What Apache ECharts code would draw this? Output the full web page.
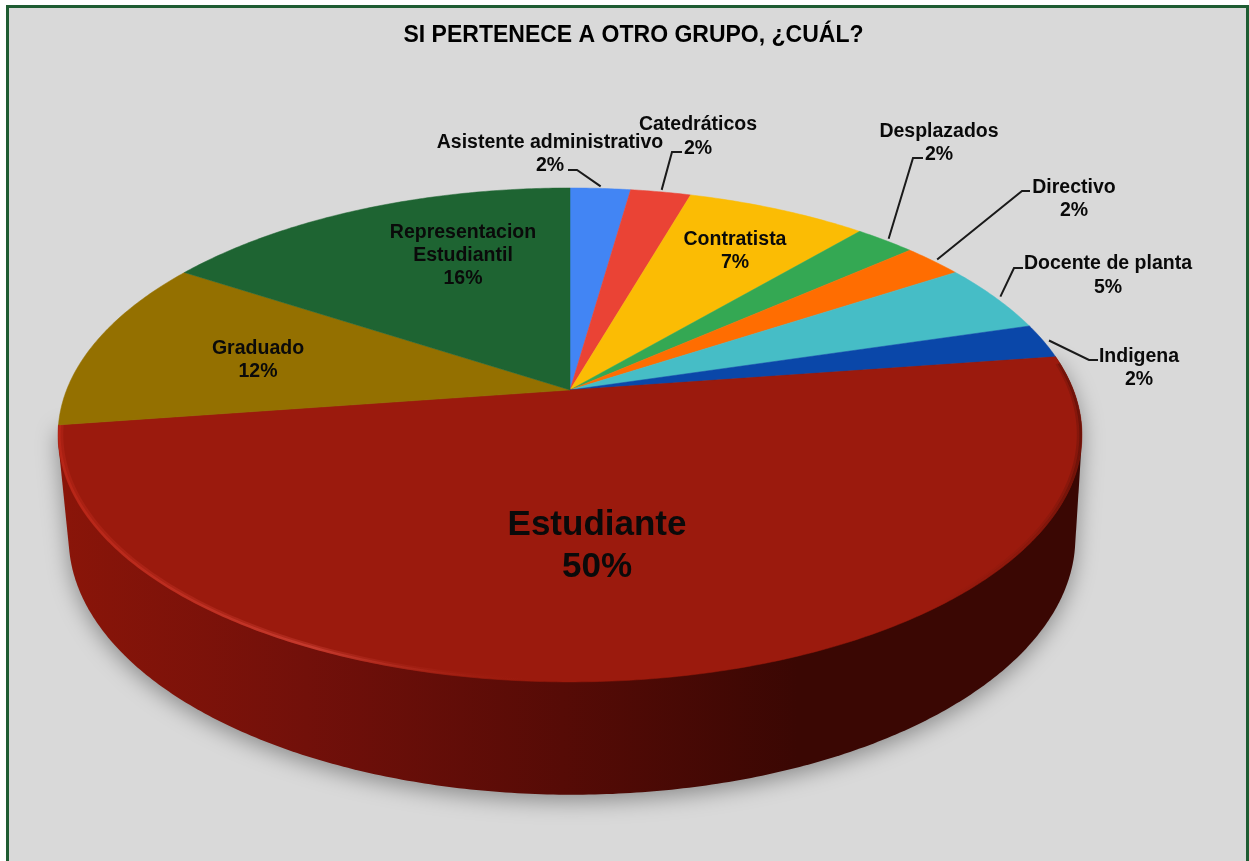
<!DOCTYPE html>
<html><head><meta charset="utf-8">
<style>html,body{margin:0;padding:0;background:#fff}#c{width:1249px;height:861px}</style>
<script src="https://cdn.jsdelivr.net/npm/echarts@6/dist/echarts.min.js"></script>
</head><body><div id="c"></div>
<script>
// ---- data ----
var categories = ['Asistente administrativo','Catedráticos','Contratista','Desplazados','Directivo','Docente de planta','Indigena','Estudiante','Graduado','Representacion\nEstudiantil'];
var shares = [2.27,2.27,6.82,2.27,2.27,4.55,2.27,50,11.36,15.91];
var percentLabels = ['2%','2%','7%','2%','2%','5%','2%','50%','12%','16%'];
var colors = ['#4285f4','#ea4335','#fbbc04','#34a853','#ff6d01','#46bdc6','#0a47a9','#9b1a0d','#947000','#1e6432'];
var titleText = 'SI PERTENECE A OTRO GRUPO, ¿CUÁL?';

// ---- layout ----
var topFace = {cx:570, cy:390, a:503.4, b:238.8, k:0.182};
var bottomFace = {cx:572, cy:494, a:496, b:249.6, k:0.17};
var labelPos = [[550,154.5],[698,136.5],[735,251.5],[939,143.5],[1074,199.5],[1108,276],[1139,368.5],[597,546],[258,360.5],[463,256]];
var labelSize = [19.5,19.5,19.5,19.5,19.5,19.5,19.5,35,19.5,19.5];
var labelLine = [23,24,23,23,23,24,23,42,23,23];
var leaders = [[[577,170],[568,170]],[[672,152],[682,152]],null,[[913,158],[923,158]],[[1022,191],[1030,191]],[[1014,268],[1023,268]],[[1089,360],[1098,360]],null,null,null];
var FONT = '"Liberation Sans", Arial, sans-serif';

var total = shares.reduce(function(s,v){return s+v;},0);
function startAngle(i){var c=0;for(var j=0;j<i;j++)c+=shares[j];return c/total*2*Math.PI;}
function proj(f,t,r){var u=r*Math.sin(t),v=r*Math.cos(t),w=1+f.k*v;return [f.cx+f.a*u/w,f.cy-f.b*v/w];}
function arc(f,t0,t1,r){var n=Math.max(6,Math.ceil((t1-t0)/0.01)),p=[];for(var i=0;i<=n;i++)p.push(proj(f,t0+(t1-t0)*i/n,r));return p;}
function hull(pts){
  var p=pts.slice().sort(function(a,b){return a[0]-b[0]||a[1]-b[1];});
  function cross(o,a,b){return (a[0]-o[0])*(b[1]-o[1])-(a[1]-o[1])*(b[0]-o[0]);}
  var lo=[],up=[],i;
  for(i=0;i<p.length;i++){while(lo.length>1&&cross(lo[lo.length-2],lo[lo.length-1],p[i])<=0)lo.pop();lo.push(p[i]);}
  for(i=p.length-1;i>=0;i--){while(up.length>1&&cross(up[up.length-2],up[up.length-1],p[i])<=0)up.pop();up.push(p[i]);}
  lo.pop();up.pop();return lo.concat(up);
}
var LG = echarts.graphic.LinearGradient;
var biggest = Math.max.apply(null,shares);

var chart = echarts.init(document.getElementById('c'));
chart.setOption({
  animation:false,
  backgroundColor:'#ffffff',
  title:{text:titleText,left:628.5,top:19,textAlign:'center',textStyle:{fontFamily:FONT,fontWeight:'bold',fontSize:23,color:'#000'}},
  graphic:[{type:'rect',z:-10,silent:true,shape:{x:7.5,y:6.5,width:1240,height:900},style:{fill:'#d9d9d9',stroke:'#1e5c32',lineWidth:3}}],
  series:[
  { // side wall of the largest slice
    type:'custom',coordinateSystem:'none',z:1,silent:true,data:shares,
    renderItem:function(params,api){
      var i=params.dataIndex; if(api.value(0)<biggest)return null;
      var t0=startAngle(i),t1=t0+api.value(0)/total*2*Math.PI;
      var pts=hull(arc(topFace,t0,t1,1).concat(arc(bottomFace,t0,t1,1)));
      return {type:'polygon',shape:{points:pts},style:{
        fill:new LG(60,0,1085,0,[{offset:0,color:'#8a1509'},{offset:.24,color:'#72100a'},{offset:.49,color:'#560b06'},{offset:.72,color:'#3a0703'},{offset:1,color:'#3a0703'}],true),
        shadowBlur:22,shadowColor:'rgba(0,0,0,0.36)',shadowOffsetY:6}};
    }
  },
  { // top surface
    type:'custom',coordinateSystem:'none',z:2,silent:true,data:shares,
    renderItem:function(params,api){
      var i=params.dataIndex,t0=startAngle(i),t1=t0+api.value(0)/total*2*Math.PI;
      var pts=[[topFace.cx,topFace.cy]].concat(arc(topFace,t0,t1,1));
      var kids=[{type:'polygon',shape:{points:pts},style:{fill:colors[i],stroke:colors[i],lineWidth:.5}}];
      if(api.value(0)===biggest){
        [[0.9975,2.5,1],[0.993,3,0.5]].forEach(function(b){
          kids.push({type:'polyline',shape:{points:arc(topFace,t0+0.03,t1,b[0])},style:{fill:null,lineWidth:b[1],opacity:b[2],
            stroke:new LG(58,0,1085,0,[{offset:0,color:'rgba(190,40,25,.8)'},{offset:.25,color:'rgba(200,60,48,.9)'},{offset:.47,color:'rgba(155,26,13,0)'},{offset:.85,color:'rgba(50,8,3,0)'},{offset:.95,color:'rgba(50,8,3,.15)'},{offset:1,color:'rgba(50,8,3,.45)'}],true)}});
        });
      }
      return {type:'group',children:kids};
    }
  },
  { // leader lines and labels
    type:'custom',coordinateSystem:'none',z:3,silent:true,data:shares,
    renderItem:function(params,api){
      var i=params.dataIndex,t0=startAngle(i),mid=t0+api.value(0)/total*Math.PI;
      var kids=[];
      if(leaders[i]){kids.push({type:'polyline',shape:{points:[proj(topFace,mid,1.012)].concat(leaders[i])},style:{fill:null,stroke:'#1a1a1a',lineWidth:2}});}
      kids.push({type:'text',style:{x:labelPos[i][0],y:labelPos[i][1],text:categories[i]+'\n'+percentLabels[i],
        align:'center',verticalAlign:'middle',fontFamily:FONT,fontWeight:'bold',fontSize:labelSize[i],lineHeight:labelLine[i],fill:'#0a0a0a'}});
      return {type:'group',children:kids};
    }
  }]
});
</script></body></html>
